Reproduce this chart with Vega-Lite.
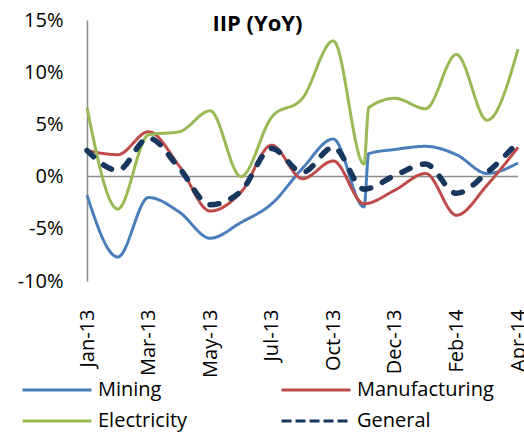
{
  "$schema": "https://vega.github.io/schema/vega-lite/v6.json",
  "width": 431,
  "height": 261,
  "autosize": {"type": "none"},
  "padding": {"left": 87, "top": 20, "right": 6, "bottom": 153},
  "background": "white",
  "config": {"view": {"stroke": null}, "font": "Open Sans"},
  "title": {"text": "IIP (YoY)", "fontSize": 22, "fontWeight": "bold", "font": "Open Sans", "color": "#000000", "anchor": "middle", "dx": -45, "offset": -26},
  "data": {"values": [
    {"s": "Mining", "i": 0, "v": -1.8}, {"s": "Mining", "i": 1, "v": -7.7}, {"s": "Mining", "i": 2, "v": -2.0}, {"s": "Mining", "i": 3, "v": -3.4},
    {"s": "Mining", "i": 4, "v": -5.9}, {"s": "Mining", "i": 5, "v": -4.4}, {"s": "Mining", "i": 6, "v": -2.6}, {"s": "Mining", "i": 7, "v": 0.8},
    {"s": "Mining", "i": 8, "v": 3.6}, {"s": "Mining", "i": 9, "v": -2.9}, {"s": "Mining", "i": 9.15, "v": 2.2}, {"s": "Mining", "i": 10, "v": 2.6},
    {"s": "Mining", "i": 11, "v": 2.9}, {"s": "Mining", "i": 12, "v": 2.1}, {"s": "Mining", "i": 13, "v": 0.3}, {"s": "Mining", "i": 14, "v": 1.3},
    {"s": "Manufacturing", "i": 0, "v": 2.5}, {"s": "Manufacturing", "i": 1, "v": 2.1}, {"s": "Manufacturing", "i": 2, "v": 4.3}, {"s": "Manufacturing", "i": 3, "v": 1.0},
    {"s": "Manufacturing", "i": 4, "v": -3.3}, {"s": "Manufacturing", "i": 5, "v": -1.5}, {"s": "Manufacturing", "i": 6, "v": 3.0}, {"s": "Manufacturing", "i": 7, "v": -0.2},
    {"s": "Manufacturing", "i": 8, "v": 1.5}, {"s": "Manufacturing", "i": 9, "v": -2.6}, {"s": "Manufacturing", "i": 10, "v": -1.3}, {"s": "Manufacturing", "i": 11, "v": 0.3},
    {"s": "Manufacturing", "i": 12, "v": -3.7}, {"s": "Manufacturing", "i": 13, "v": -0.8}, {"s": "Manufacturing", "i": 14, "v": 2.8},
    {"s": "Electricity", "i": 0, "v": 6.6}, {"s": "Electricity", "i": 1, "v": -3.1}, {"s": "Electricity", "i": 2, "v": 4.0}, {"s": "Electricity", "i": 3, "v": 4.3},
    {"s": "Electricity", "i": 4, "v": 6.3}, {"s": "Electricity", "i": 5, "v": 0.0}, {"s": "Electricity", "i": 6, "v": 5.7}, {"s": "Electricity", "i": 7, "v": 7.5},
    {"s": "Electricity", "i": 8, "v": 13.0}, {"s": "Electricity", "i": 9, "v": 1.2}, {"s": "Electricity", "i": 9.15, "v": 6.6}, {"s": "Electricity", "i": 10, "v": 7.5},
    {"s": "Electricity", "i": 11, "v": 6.5}, {"s": "Electricity", "i": 12, "v": 11.7}, {"s": "Electricity", "i": 13, "v": 5.4}, {"s": "Electricity", "i": 14, "v": 12.2},
    {"s": "General", "i": 0, "v": 2.5}, {"s": "General", "i": 1, "v": 0.6}, {"s": "General", "i": 2, "v": 3.7}, {"s": "General", "i": 3, "v": 0.8},
    {"s": "General", "i": 4, "v": -2.7}, {"s": "General", "i": 5, "v": -1.4}, {"s": "General", "i": 6, "v": 2.7}, {"s": "General", "i": 7, "v": 0.4},
    {"s": "General", "i": 8, "v": 2.8}, {"s": "General", "i": 9, "v": -1.2}, {"s": "General", "i": 10, "v": 0.1}, {"s": "General", "i": 11, "v": 1.2},
    {"s": "General", "i": 12, "v": -1.6}, {"s": "General", "i": 13, "v": 0.4}, {"s": "General", "i": 14, "v": 3.3}
  ]},
  "layer": [
    {
      "data": {"values": [{"v": 0}]},
      "mark": {"type": "rule", "color": "#8c8c8c", "strokeWidth": 1.5},
      "encoding": {
        "y": {"field": "v", "type": "quantitative", "scale": {"domain": [-10, 15], "nice": false},
          "axis": {"values": [-10, -5, 0, 5, 10, 15], "labelExpr": "datum.value + '%'", "title": null, "grid": false, "ticks": false,
            "domainColor": "#8c8c8c", "domainWidth": 1.5, "labelFontSize": 20, "labelColor": "#000000", "labelPadding": 24, "labelFlush": false, "labelOverlap": false}}
      }
    },
    {
      "transform": [{"filter": "datum.s !== 'General'"}],
      "mark": {"type": "line", "strokeWidth": 3, "interpolate": "monotone"},
      "encoding": {
        "x": {"field": "i", "type": "quantitative", "scale": {"domain": [0, 14], "nice": false, "zero": false},
          "axis": {"values": [0, 2, 4, 6, 8, 10, 12, 14], "labelExpr": "['Jan-13','Feb-13','Mar-13','Apr-13','May-13','Jun-13','Jul-13','Sep-13','Oct-13','Nov-13','Dec-13','Jan-14','Feb-14','Mar-14','Apr-14'][datum.value]",
            "labelAngle": -90, "labelAlign": "right", "labelBaseline": "middle", "domain": false, "ticks": false, "grid": false, "title": null,
            "labelFontSize": 20, "labelColor": "#000000", "labelPadding": 28, "labelOverlap": false, "labelFlush": false, "labelBound": false}},
        "y": {"field": "v", "type": "quantitative", "scale": {"domain": [-10, 15], "nice": false},
          "axis": {"values": [-10, -5, 0, 5, 10, 15], "labelExpr": "datum.value + '%'", "title": null, "grid": false, "ticks": false,
            "domainColor": "#8c8c8c", "domainWidth": 1.5, "labelFontSize": 20, "labelColor": "#000000", "labelPadding": 24, "labelFlush": false, "labelOverlap": false}},
        "color": {"field": "s", "type": "nominal", "scale": {"domain": ["Mining", "Electricity", "Manufacturing", "General"], "range": ["#4a7ebb", "#98b954", "#be4b48", "#17375e"]},
          "legend": {"title": null, "orient": "none", "legendX": -43, "legendY": 357, "columns": 2, "gridAlign": "all", "columnPadding": 40, "rowPadding": 8,
            "symbolType": "M-3,0H3", "symbolSize": 529, "symbolStrokeWidth": 3, "labelFontSize": 20, "labelOffset": 28, "labelColor": "#000000"}},
        "strokeDash": {"field": "s", "type": "nominal", "scale": {"domain": ["Mining", "Electricity", "Manufacturing", "General"], "range": [[1, 0], [1, 0], [1, 0], [10, 4]]},
          "legend": {"title": null, "orient": "none", "legendX": -43, "legendY": 357, "columns": 2, "gridAlign": "all", "columnPadding": 40, "rowPadding": 8,
            "symbolType": "M-3,0H3", "symbolSize": 529, "symbolStrokeWidth": 3, "labelFontSize": 20, "labelOffset": 28, "labelColor": "#000000"}}
      }
    },
    {
      "transform": [{"filter": "datum.s === 'General'"}],
      "mark": {"type": "line", "strokeWidth": 5.5, "interpolate": "monotone", "strokeDash": [9, 13], "strokeCap": "round"},
      "encoding": {
        "x": {"field": "i", "type": "quantitative"},
        "y": {"field": "v", "type": "quantitative"},
        "color": {"field": "s", "type": "nominal"}
      }
    }
  ]
}
